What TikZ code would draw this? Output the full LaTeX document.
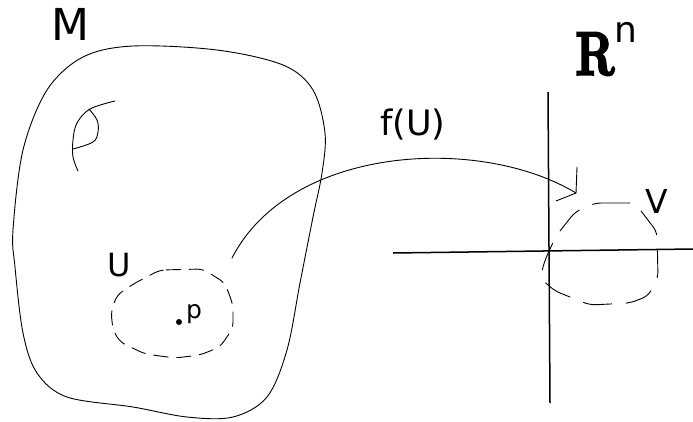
\documentclass[tikz,border=0pt]{standalone}
\usepackage{fontspec}
\setmainfont{DejaVu Sans}
\newfontfamily\heavyR{lmroman10-bold.otf}[FakeBold=4]
\begin{document}
\begin{tikzpicture}[x=1pt,y=-1pt,
  lbl/.style={inner sep=0pt, outer sep=0pt},
  thin line/.style={line width=0.9pt, line cap=round, line join=round},
  axis/.style={line width=1.5pt},
  dashloopU/.style={line width=0.9pt, dash pattern=on 15pt off 8pt, rounded corners=6pt},
  dashloopV/.style={line width=0.9pt, dash pattern=on 29pt off 14pt, rounded corners=6pt}]
\useasboundingbox (0,0) rectangle (693,421);
% manifold M
\draw[thin line] plot[smooth cycle, tension=0.55] coordinates {
  (13,230) (23,150) (47,90) (83,57) (133,46) (217,50) (283,65) (313,90)
  (325,133) (322,173) (313,217) (300,283) (287,350) (267,397) (233,417)
  (187,417) (133,407) (67,397) (37,373) (23,333) (15,267)};
% small eye-like sketch
\draw[thin line] plot[smooth, tension=0.6] coordinates {(115,101) (90,109) (77,123) (73,140) (73,157) (78,171)};
\draw[thin line] plot[smooth, tension=0.6] coordinates {(89,109) (97,120) (98,132) (93,142) (73,149)};
% U region
\draw[dashloopU] (160,270) -- (203,269) -- (225,283) -- (233,305) -- (233,328)
  -- (220,347) -- (200,355) -- (175,358) -- (145,354) -- (120,342) -- (113,330)
  -- (111,312) -- (117,295) -- (135,283) -- cycle;
\fill (179,322) circle (3pt);
% axes
\coordinate (vt) at (548,92);
\coordinate (vb) at (550,403);
\coordinate (hl) at (393,253);
\coordinate (hr) at (693,249);
\draw[axis] (vt) -- (vb);
\draw[axis] (hl) -- (hr);
% V region
\draw[dashloopV] (595,203) -- (635,203) -- (657,232) -- (658,278) -- (648,296)
  -- (630,303) -- (590,305) -- (555,291) -- (540,278) -- (545,260) -- (556,236)
  -- (575,212) -- cycle;
% map curve
\coordinate (fs) at (232,258);
\coordinate (ft) at (576,193);
\coordinate (b1) at (577,167);
\coordinate (b2) at (556,201);
\draw[thin line] (fs) .. controls (290,145) and (480,135) .. (ft);
\draw[thin line] (b1) -- (ft) -- (b2);
% labels
\node[lbl] (M) at (70.5,24) {\fontsize{44}{44}\selectfont M};
\node[lbl] (U) at (119,265) {\fontsize{32}{32}\selectfont U};
\node[lbl] (p) at (194,314) {\fontsize{25}{25}\selectfont p};
\node[lbl] (fU) at (413,125) {\fontsize{35}{35}\selectfont f(U)};
\node[lbl] (V) at (657,201) {\fontsize{33}{33}\selectfont V};
\node[lbl] (R) at (595,54) {\scalebox{0.74}[1]{\heavyR\fontsize{61}{61}\selectfont R}};
\node[lbl] (n) at (626,32) {\fontsize{36}{36}\selectfont n};
\end{tikzpicture}
\end{document}
